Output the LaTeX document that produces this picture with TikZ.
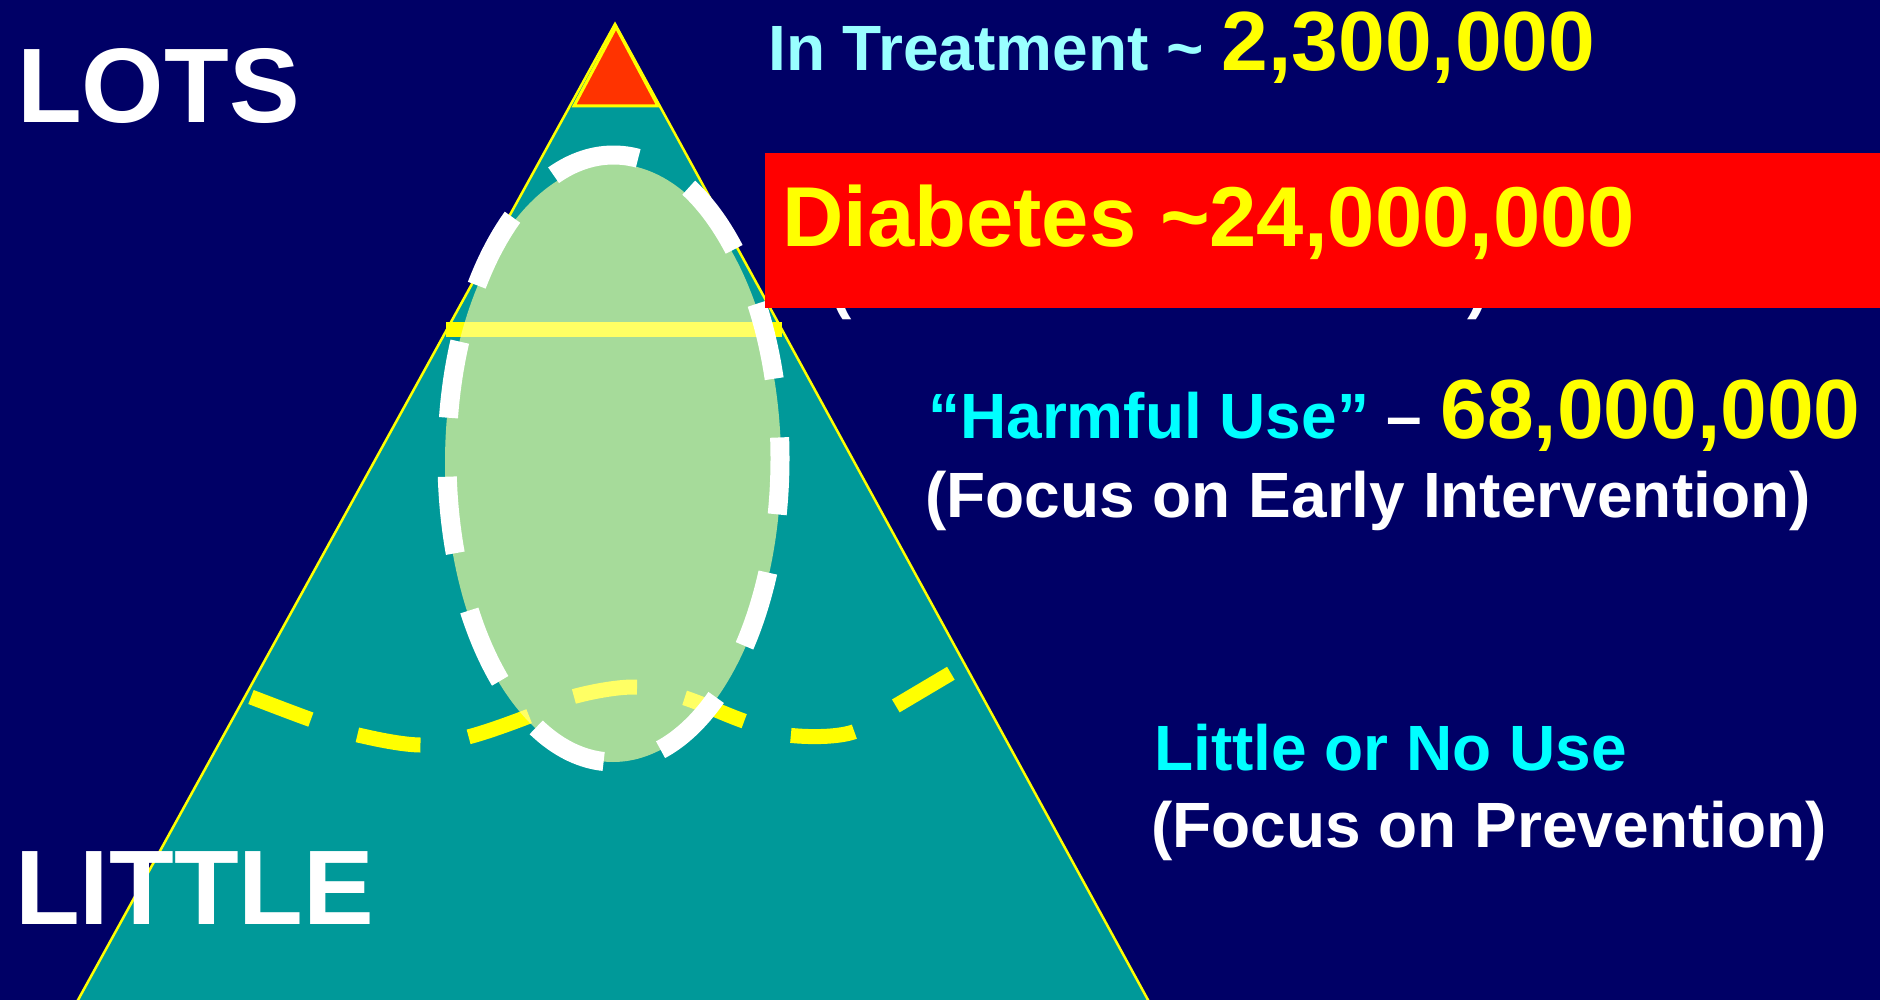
\documentclass[tikz,border=0pt]{standalone}
\usepackage{fontspec}
\setmainfont{Liberation Sans}
\definecolor{bgnavy}{RGB}{0,0,102}
\definecolor{tealfill}{RGB}{0,153,153}
\definecolor{ylw}{RGB}{255,255,0}
\definecolor{redtip}{RGB}{255,51,0}
\definecolor{paleegg}{RGB}{255,255,155}
\definecolor{ltcyan}{RGB}{153,255,255}
\definecolor{cyn}{RGB}{0,255,255}
\definecolor{boxred}{RGB}{255,0,0}
\newcommand\fsz[1]{\fontsize{#1}{#1}\selectfont}
\begin{document}
\begin{tikzpicture}[x=1pt,y=-1pt,
  txt/.style={inner sep=0pt, anchor=base west, font=\bfseries\fsz{64}},
  bigtxt/.style={inner sep=0pt, anchor=base west, font=\bfseries\fsz{106}, text=white},
  yline/.style={ylw, line width=15pt},
  outline/.style={draw=ylw, line width=2.5pt}]
\useasboundingbox (0,0) rectangle (1880,1000);
\clip (0,0) rectangle (1880,1000);
\fill[bgnavy] (0,0) rectangle (1880,1000);
% pyramid
\filldraw[fill=tealfill, outline] (615,24) -- (1153.5,1010) -- (72.5,1010) -- cycle;
\filldraw[fill=redtip, outline, line width=3pt] (616,27) -- (658,106) -- (574,106) -- cycle;
% yellow lines
\draw[yline] (446,330) -- (782,330);
\draw[yline, dash pattern=on 64pt off 49pt] plot[smooth, tension=0.6] coordinates {(251,697) (312,720) (358,735) (420,745) (468,737) (527,717) (572,697) (634,687) (682,697) (741,720) (787,735) (850,733) (894,707) (953,672)};
% ellipse
\fill[paleegg, fill opacity=0.65] (613,463) ellipse [x radius=168, y radius=299];
\draw[white, line width=19pt, dash pattern=on 77pt off 59pt, dash phase=52pt] (613.5,155) arc[start angle=-90, end angle=270, x radius=166.5, y radius=303.5];
% texts
\node[bigtxt] (lots) at (17,123) {LOTS};
\node[bigtxt] (little) at (15,924) {LITTLE};
\node[txt, text=ltcyan] (treat) at (768,71) {In Treatment \textasciitilde\ {\fsz{84}\color{ylw}2,300,000}};
\node[txt, text=cyn] (harm) at (928,438) {“Harmful Use” {\color{white}–} {\fsz{84}\color{ylw}68,000,000}};
\node[txt, text=white] (early) at (925,517) {(Focus on Early Intervention)};
\node[txt, text=cyn] (nouse) at (1154,770) {Little or No Use};
\node[txt, text=white] (prev) at (1151,847) {(Focus on Prevention)};
\node[txt, text=white] (lpar) at (830,307) {(};
\node[txt, text=white] (rpar) at (1467,307) {)};
% red box
\fill[boxred] (765,153) rectangle (1880,308);
\node[txt, text=ylw, font=\bfseries\fsz{85}] (diab) at (782,247) {Diabetes \textasciitilde 24,000,000};
\end{tikzpicture}
\end{document}
